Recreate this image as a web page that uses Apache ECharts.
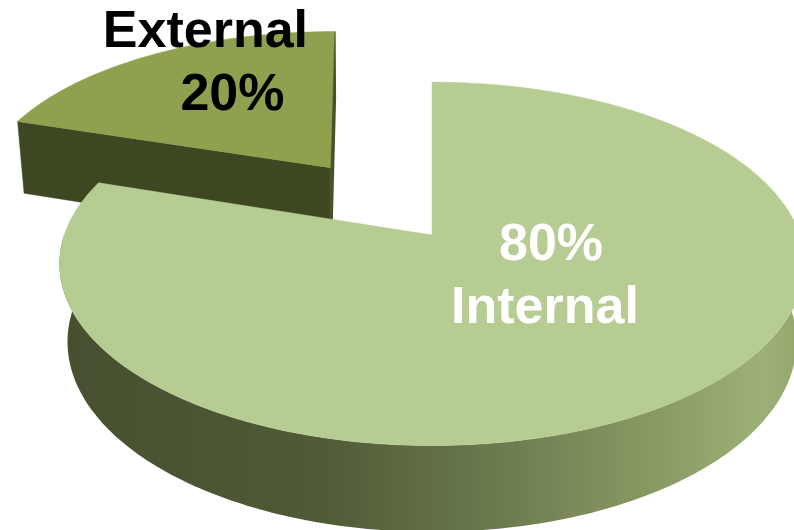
<!DOCTYPE html>
<html>
<head>
<meta charset="utf-8">
<script src="https://cdn.jsdelivr.net/npm/echarts@6/dist/echarts.min.js"></script>
<style>
  html, body { margin: 0; padding: 0; background: #ffffff; }
  #chart { width: 794px; height: 530px; }
</style>
</head>
<body>
<div id="chart"></div>
<script>
// ---- data ----
const categories = ['Internal', 'External'];
const shares = [80, 20];

// ---- look of each slice ----
const sliceLook = {
  Internal: {
    top: '#b6cc92',
    cut: '#7d8f57',
    explode: 0,
    textColor: '#ffffff',
    lines: ['value', 'name'],
    lineOffsets: [[119, 11], [113, 74]],
    z: 10
  },
  External: {
    top: '#8ea14f',
    cut: '#3d4822',
    edge: '#46532a',
    explode: 0.5,
    textColor: '#000000',
    lines: ['name', 'value'],
    lineOffsets: [[-125, -135], [-98, -72]],
    z: 0
  }
};

// side wall shading, dark on the left and lighter to the right
const wallFill = {
  type: 'linear', x: 60, y: 0, x2: 800, y2: 0, global: true,
  colorStops: [
    { offset: 0.00, color: '#465030' },
    { offset: 0.35, color: '#4f5a36' },
    { offset: 0.55, color: '#66744a' },
    { offset: 0.80, color: '#889a63' },
    { offset: 0.95, color: '#9db077' },
    { offset: 1.00, color: '#94a86e' }
  ]
};

// ---- perspective camera for the tilted disc ----
const cam = {
  x0: 432, y0: 235,      // where the disc centre lands
  focal: 2030,
  dist: 5.52,
  tilt: 28.8 * Math.PI / 180,
  thick: 0.245,          // slab thickness, in disc radii
  follow: 0.7            // how far the eye slides sideways with a pulled-out slice
};
const sT = Math.sin(cam.tilt), cT = Math.cos(cam.tilt);

// u: right, w: up, v: toward the viewer; eyeU is the sideways eye position
function makeProjector(hubU, hubV, eyeU) {
  const hubDepth = cam.dist - hubV * cT;
  const xc = cam.x0 + cam.focal * eyeU / hubDepth;
  return function (u, w, v) {
    const depth = cam.dist - (w * sT + v * cT);
    return [xc + cam.focal * (u - eyeU) / depth, cam.y0 + cam.focal * (v * sT - w * cT) / depth];
  };
}

// cumulative start/end of each slice on the angle axis
const seriesData = [];
let acc = 0;
categories.forEach(function (name, i) {
  seriesData.push({ name: name, value: [acc, acc + shares[i], shares[i]] });
  acc += shares[i];
});

function renderSlice(params, api) {
  const name = categories[params.dataIndex];
  const look = sliceLook[name];
  const a0 = api.value(0), a1 = api.value(1), share = api.value(2);

  // the polar system turns values into directions on the unit disc
  const c0 = api.coord([0, 0]);
  const e = api.coord([1, 0]);
  const R = Math.hypot(e[0] - c0[0], e[1] - c0[1]);
  function unit(r, val) {
    const p = api.coord([r, val]);
    return [(p[0] - c0[0]) / R, (p[1] - c0[1]) / R];
  }
  const off = look.explode ? unit(look.explode, (a0 + a1) / 2) : [0, 0];
  const eyeU = off[0] * cam.follow;
  const project = makeProjector(off[0], off[1], eyeU);
  const H = cam.thick;

  function rim(val, w) {
    const d = unit(1, val);
    return project(off[0] + d[0], w, off[1] + d[1]);
  }
  function arc(from, to, w) {
    const pts = [];
    const n = Math.max(2, Math.ceil(Math.abs(to - from) / 0.25));
    for (let k = 0; k <= n; k++) pts.push(rim(from + (to - from) * k / n, w));
    return pts;
  }

  const children = [];

  // outer wall, only the part facing the viewer
  const w0 = Math.max(a0, 25), w1 = Math.min(a1, 75);
  if (w1 > w0) {
    const pts = arc(w0, w1, 0).concat(arc(w0, w1, -H).reverse());
    children.push({
      type: 'polygon', z2: look.z + 1,
      shape: { points: pts },
      style: { fill: wallFill, stroke: null }
    });
  }

  // radial cut faces
  [[a0, true], [a1, false]].forEach(function (edge) {
    const d = unit(1, edge[0]);
    const n = edge[1] ? [d[1], -d[0]] : [-d[1], d[0]];
    const pu = off[0] + d[0] * 0.5, pv = off[1] + d[1] * 0.5;
    const facing = (eyeU - pu) * n[0] + (cam.dist * cT - pv) * n[1];
    if (facing > 0.001) {
      const side = facing < 0.2;   // nearly edge-on face: give it a visible rim
      children.push({
        type: 'polygon', z2: look.z + 2,
        shape: { points: [
          project(off[0], 0, off[1]),
          rim(edge[0], 0),
          rim(edge[0], -H),
          project(off[0], -H, off[1])
        ] },
        style: side
          ? { fill: look.edge, stroke: look.edge, lineWidth: 2.5 }
          : { fill: look.cut, stroke: look.cut, lineWidth: 0.5 }
      });
    }
  });

  // top face
  const hub = project(off[0], 0, off[1]);
  children.push({
    type: 'polygon', z2: look.z + 3,
    shape: { points: [hub].concat(arc(a0, a1, 0)) },
    style: { fill: look.top, stroke: look.top, lineWidth: 0.5 }
  });

  // label lines, placed from the slice hub
  look.lines.forEach(function (kind, i) {
    const o = look.lineOffsets[i];
    children.push({
      type: 'text', z2: look.z + 4,
      style: {
        text: kind === 'name' ? name : share + '%',
        x: hub[0] + o[0], y: hub[1] + o[1],
        fill: look.textColor,
        font: 'bold 52px "Liberation Sans", Arial, sans-serif',
        align: 'center', verticalAlign: 'middle'
      }
    });
  });

  return { type: 'group', children: children };
}

const chart = echarts.init(document.getElementById('chart'), null, { renderer: 'canvas' });
chart.setOption({
  animation: false,
  backgroundColor: '#ffffff',
  polar: { center: [60, 60], radius: 40 },
  angleAxis: { type: 'value', min: 0, max: 100, startAngle: 90, clockwise: true, show: false },
  radiusAxis: { type: 'value', min: 0, max: 1, show: false },
  series: [{
    type: 'custom',
    coordinateSystem: 'polar',
    silent: true,
    clip: false,
    renderItem: renderSlice,
    data: seriesData
  }]
});
</script>
</body>
</html>
